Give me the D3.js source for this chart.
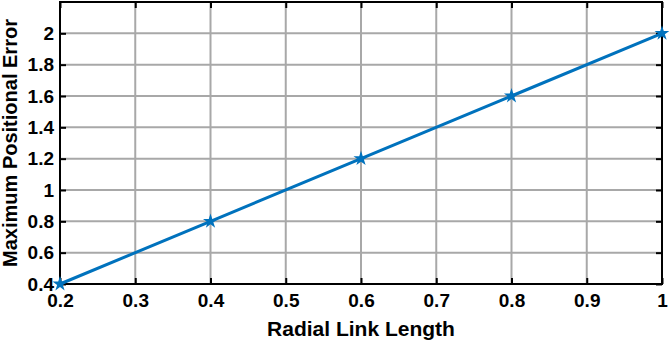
<!DOCTYPE html>
<html>
<head>
<meta charset="utf-8">
<script src="https://cdn.jsdelivr.net/npm/d3@7"></script>
<style>
body { margin: 0; background: #fff; }
text { font-family: "Liberation Sans", Arial, sans-serif; font-weight: bold; }
</style>
</head>
<body>
<div id="chart"></div>
<script>
var linkLength = [0.2, 0.4, 0.6, 0.8, 1.0];
var posError = [0.4, 0.8, 1.2, 1.6, 2.0];
var xTicks = [0.2, 0.3, 0.4, 0.5, 0.6, 0.7, 0.8, 0.9, 1];
var yTicks = [0.4, 0.6, 0.8, 1, 1.2, 1.4, 1.6, 1.8, 2];

var margin = { left: 60, right: 7, top: 2, bottom: 58 };
var W = 669, H = 342;
var width = W - margin.left - margin.right;
var height = H - margin.top - margin.bottom;

var svg = d3.select("#chart").append("svg")
    .attr("width", W)
    .attr("height", H);
var g = svg.append("g")
    .attr("transform", "translate(" + margin.left + "," + margin.top + ")");

var x = d3.scaleLinear().domain([0.2, 1]).range([0, width]);
var y = d3.scaleLinear().domain([0.4, 2.2]).range([height, 0]);

// grid
g.selectAll(".gx").data(xTicks).enter().append("line")
    .attr("x1", d => x(d)).attr("x2", d => x(d))
    .attr("y1", 0).attr("y2", height)
    .attr("stroke", "#a8a8a8").attr("stroke-width", 2);
g.selectAll(".gy").data(yTicks).enter().append("line")
    .attr("x1", 0).attr("x2", width)
    .attr("y1", d => y(d)).attr("y2", d => y(d))
    .attr("stroke", "#a8a8a8").attr("stroke-width", 2);

// axes
var fmt = d => d3.format("")(+d.toFixed(1));
var xAxis = d3.axisBottom(x).tickValues(xTicks).tickFormat(fmt).tickSizeInner(-6).tickSizeOuter(0).tickPadding(10);
var yAxis = d3.axisLeft(y).tickValues(yTicks).tickFormat(fmt).tickSizeInner(-6).tickSizeOuter(0).tickPadding(6);
var xTop = d3.axisTop(x).tickValues(xTicks).tickFormat("").tickSizeInner(-6).tickSizeOuter(0);
var yRight = d3.axisRight(y).tickValues(yTicks).tickFormat("").tickSizeInner(-6).tickSizeOuter(0);

var ax = g.append("g").attr("transform", "translate(0," + height + ")").call(xAxis);
var ay = g.append("g").call(yAxis);
var at = g.append("g").call(xTop);
var ar = g.append("g").attr("transform", "translate(" + width + ",0)").call(yRight);
[ax, ay, at, ar].forEach(a => {
    a.select(".domain").remove();
    a.selectAll(".tick line").attr("stroke", "#000").attr("stroke-width", 2);
    a.selectAll("text").attr("fill", "#000").style("font-size", "19px");
});

g.append("rect")
    .attr("x", 0).attr("y", 0).attr("width", width).attr("height", height)
    .attr("fill", "none").attr("stroke", "#000").attr("stroke-width", 2);

// line
var line = d3.line().x((d, i) => x(linkLength[i])).y(d => y(d));
g.append("path").datum(posError)
    .attr("d", line)
    .attr("fill", "none")
    .attr("stroke", "#0072BD")
    .attr("stroke-width", 3);

var star = d3.symbol().type(d3.symbolStar).size(70);
g.selectAll(".pt").data(posError).enter().append("path")
    .attr("transform", (d, i) => "translate(" + x(linkLength[i]) + "," + y(d) + ")")
    .attr("d", star)
    .attr("fill", "#0072BD");

// labels
svg.append("text")
    .attr("x", margin.left + width / 2)
    .attr("y", 336)
    .attr("text-anchor", "middle")
    .style("font-size", "21px")
    .text("Radial Link Length");
svg.append("text")
    .attr("transform", "translate(17," + (margin.top + height / 2) + ") rotate(-90)")
    .attr("text-anchor", "middle")
    .style("font-size", "20px")
    .text("Maximum Positional Error");
</script>
</body>
</html>
